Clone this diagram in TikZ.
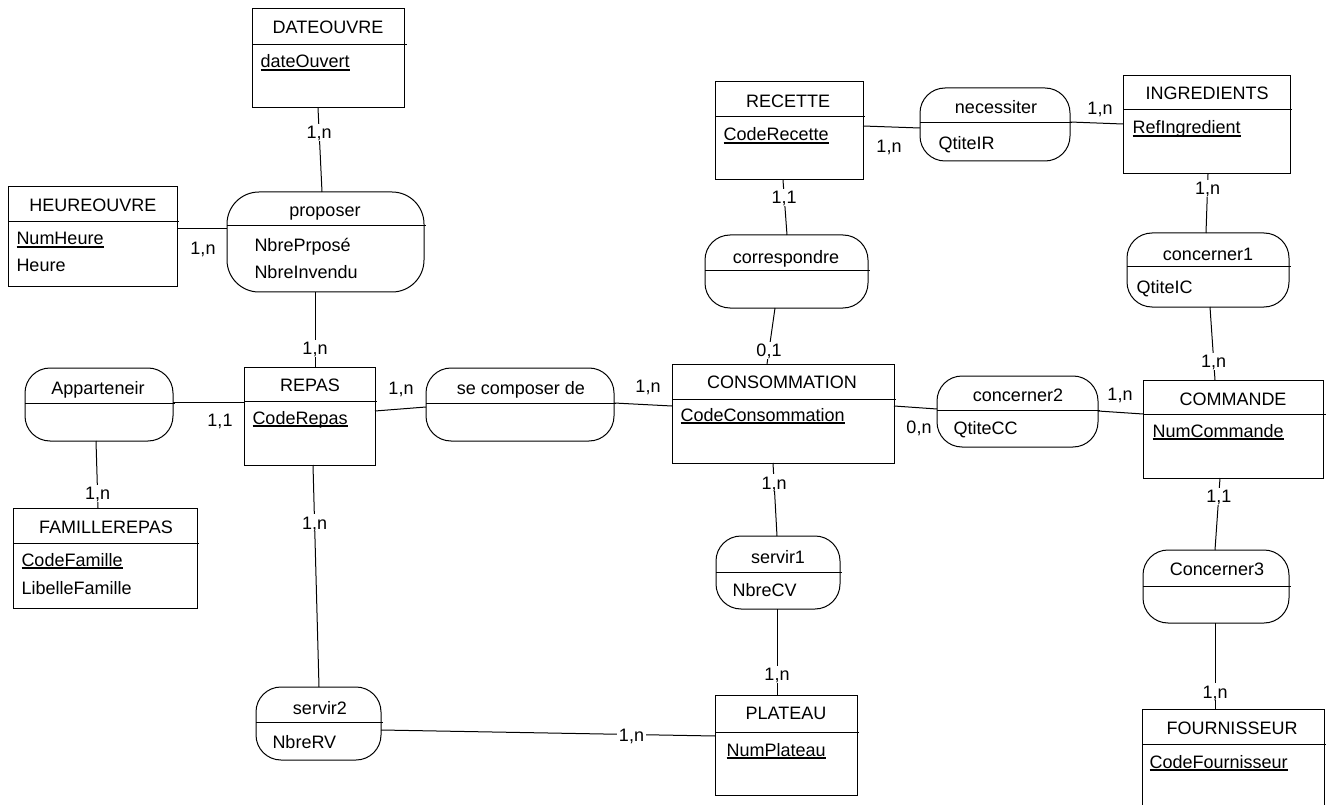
\documentclass[tikz,border=0pt]{standalone}
\usepackage{fontspec}
\setmainfont{Liberation Sans}
\usetikzlibrary{calc}

\newcommand\cle[1]{\setbox0\hbox{#1}\rlap{\rule[-2.6pt]{\wd0}{1.5pt}}\box0}

\tikzset{every picture/.style={line width=1pt}}
\tikzset{
  entite/.style={draw, rectangle, anchor=north west, inner sep=0pt, outer sep=0pt},
  assoc/.style={draw, rectangle, rounded corners=25pt, anchor=north west, inner sep=0pt, outer sep=0pt},
  titre/.style={anchor=base, inner sep=0pt, font=\fontsize{18pt}{21pt}\selectfont},
  attr/.style={anchor=base west, inner sep=0pt, font=\fontsize{18pt}{21pt}\selectfont},
  card/.style={fill=white, inner sep=2pt, text height=13pt, text depth=0pt, font=\fontsize{18pt}{21pt}\selectfont}
}

\begin{document}
\begin{tikzpicture}[x=1pt,y=1pt,yscale=-1,xscale=1]
\useasboundingbox (0,0) rectangle (1326,805);

%Entities
\node [entite, minimum width=152pt, minimum height=99pt] (dateouvre) at (252,9) {};
\node [entite, minimum width=169pt, minimum height=100pt] (heureouvre) at (8,187) {};
\node [entite, minimum width=131pt, minimum height=98pt] (repas) at (244,367) {};
\node [entite, minimum width=184pt, minimum height=100pt] (famillerepas) at (13,508) {};
\node [entite, minimum width=142pt, minimum height=100pt] (plateau) at (715,695) {};
\node [entite, minimum width=222pt, minimum height=99pt] (consommation) at (672,364) {};
\node [entite, minimum width=148pt, minimum height=98pt] (recette) at (715,82) {};
\node [entite, minimum width=167pt, minimum height=98pt] (ingredients) at (1123,76) {};
\node [entite, minimum width=180pt, minimum height=98pt] (commande) at (1143,380) {};
\node [entite, minimum width=182pt, minimum height=98pt] (fournisseur) at (1142,709) {};

%Associations
\node [assoc, rounded corners=32pt, minimum width=197pt, minimum height=100pt] (proposer) at (227,192) {};
\node [assoc, minimum width=148pt, minimum height=73pt] (appartenir) at (25,368) {};
\node [assoc, minimum width=188pt, minimum height=73pt] (secomposer) at (426,368) {};
\node [assoc, minimum width=163pt, minimum height=73pt] (correspondre) at (705,235) {};
\node [assoc, minimum width=150pt, minimum height=73pt] (necessiter) at (920,88) {};
\node [assoc, minimum width=162pt, minimum height=74pt] (concerner1) at (1127,233) {};
\node [assoc, minimum width=161pt, minimum height=71pt] (concerner2) at (937,376) {};
\node [assoc, minimum width=146pt, minimum height=73pt] (concerner3) at (1143,550) {};
\node [assoc, minimum width=124pt, minimum height=73pt] (servir1) at (716,536) {};
\node [assoc, minimum width=125pt, minimum height=73pt] (servir2) at (256,687) {};

%Separators
\draw (252,45) -- (407,45);
\draw (8,222) -- (179,222);
\draw (244,401) -- (377,401);
\draw (13,543) -- (199,543);
\draw (715,732) -- (859,732);
\draw (672,399) -- (896,399);
\draw (715,117) -- (865,117);
\draw (1123,110) -- (1292,110);
\draw (1143,414) -- (1326,414);
\draw (1142,744) -- (1326,744);
\draw (227,226) -- (426,226);
\draw (25,403) -- (175,403);
\draw (426,403) -- (616,403);
\draw (705,271) -- (870,271);
\draw (920,123) -- (1072,123);
\draw (1127,267) -- (1291,267);
\draw (937,410) -- (1100,410);
\draw (1143,586) -- (1291,586);
\draw (716,572) -- (842,572);
\draw (256,722) -- (383,722);

% Titles
\node [titre] (tdateouvre) at (328,34) {DATEOUVRE};
\node [titre] (theureouvre) at (93,212) {HEUREOUVRE};
\node [titre] (trepas) at (310,391) {REPAS};
\node [titre] (tfamillerepas) at (106,533) {FAMILLEREPAS};
\node [titre] (tplateau) at (786,719) {PLATEAU};
\node [titre] (tconsommation) at (782,388) {CONSOMMATION};
\node [titre] (trecette) at (788,108) {RECETTE};
\node [titre] (tingredients) at (1207,100) {INGREDIENTS};
\node [titre] (tcommande) at (1233,405) {COMMANDE};
\node [titre] (tfournisseur) at (1232,734) {FOURNISSEUR};
\node [titre] (tproposer) at (325,217) {proposer};
\node [titre] (tappartenir) at (98,394) {Apparteneir};
\node [titre] (tsecomposer) at (521,394) {se composer de};
\node [titre] (tcorrespondre) at (786,264) {correspondre};
\node [titre] (tnecessiter) at (996,114) {necessiter};
\node [titre] (tconcerner1) at (1208,261) {concerner1};
\node [titre] (tconcerner2) at (1018,401) {concerner2};
\node [titre] (tconcerner3) at (1217,575) {Concerner3};
\node [titre] (tservir1) at (778,563) {servir1};
\node [titre] (tservir2) at (320,714) {servir2};

% Attributes
\node [attr] (kdateouvert) at (260,68) {\cle{dateOuvert}};
\node [attr] (knumheure) at (16,245) {\cle{NumHeure}};
\node [attr] (aheure) at (16,272) {Heure};
\node [attr] (anbrepropose) at (254,252) {NbrePrposé};
\node [attr] (anbreinvendu) at (254,279) {NbreInvendu};
\node [attr] (kcoderepas) at (252,424) {\cle{CodeRepas}};
\node [attr] (kcodefamille) at (21,566) {\cle{CodeFamille}};
\node [attr] (alibellefamille) at (21,594) {LibelleFamille};
\node [attr] (knumplateau) at (726,756) {\cle{NumPlateau}};
\node [attr] (kcodeconsommation) at (680,421) {\cle{CodeConsommation}};
\node [attr] (kcoderecette) at (723,141) {\cle{CodeRecette}};
\node [attr] (krefingredient) at (1132,134) {\cle{RefIngredient}};
\node [attr] (knumcommande) at (1152,437) {\cle{NumCommande}};
\node [attr] (kcodefournisseur) at (1149,768) {\cle{CodeFournisseur}};
\node [attr] (aqtiteir) at (938,150) {QtiteIR};
\node [attr] (aqtiteic) at (1136,294) {QtiteIC};
\node [attr] (aqtitecc) at (953,434) {QtiteCC};
\node [attr] (anbrecv) at (732,596) {NbreCV};
\node [attr] (anbrerv) at (272,748) {NbreRV};

%Straight Lines
\draw ($(heureouvre.north east)+(0,42)$) -- ($(proposer.north west)+(0,37)$);
\draw ($(appartenir.north east)+(0,34)$) -- ($(repas.north west)+(0,35)$);
\draw ($(repas.north east)+(0,44)$) -- ($(secomposer.north west)+(0,39)$);
\draw ($(secomposer.north east)+(0,35)$) -- ($(consommation.north west)+(0,42)$);
\draw ($(consommation.north east)+(0,42)$) -- ($(concerner2.north west)+(0,33)$);
\draw ($(concerner2.north east)+(0,35)$) -- ($(commande.north west)+(0,34)$);
\draw ($(recette.north east)+(0,44)$) -- ($(necessiter.north west)+(0,40)$);
\draw ($(necessiter.north east)+(0,34)$) -- ($(ingredients.north west)+(0,48)$);
\draw ($(servir2.north east)+(0,43)$) -- node [card, pos=0.75] (c7) {1,n} ($(plateau.north west)+(0,41)$);

\draw ($(dateouvre.south west)+(66,0)$) -- node [card, pos=0.29] (c1) {1,n} ($(proposer.north west)+(95,0)$);
\draw ($(proposer.south west)+(88,0)$) -- node [card, pos=0.75] (c3) {1,n} ($(repas.north west)+(71,0)$);
\draw ($(appartenir.south west)+(71,0)$) -- node [card, pos=0.78] (c5) {1,n} ($(famillerepas.north west)+(85,0)$);
\draw ($(repas.south west)+(69,0)$) -- node [card, pos=0.26] (c6) {1,n} ($(servir2.north west)+(63,0)$);
\draw ($(recette.south west)+(68,0)$) -- node [card, pos=0.31] (c11) {1,1} ($(correspondre.north west)+(82,0)$);
\draw ($(correspondre.south west)+(70,0)$) -- node [card, pos=0.75] (c10) {0,1} ($(consommation.north west)+(95,0)$);
\draw ($(consommation.south west)+(101,0)$) -- node [card, pos=0.27] (c14) {1,n} ($(servir1.north west)+(61,0)$);
\draw ($(servir1.south west)+(61,0)$) -- node [card, pos=0.76] (c15) {1,n} ($(plateau.north west)+(62,0)$);
\draw ($(ingredients.south west)+(85,0)$) -- node [card, pos=0.24] (c16) {1,n} ($(concerner1.north west)+(79,0)$);
\draw ($(concerner1.south west)+(83,0)$) -- node [card, pos=0.74] (c17) {1,n} ($(commande.north west)+(72,0)$);
\draw ($(commande.south west)+(77,0)$) -- node [card, pos=0.25] (c18) {1,1} ($(concerner3.north west)+(72,0)$);
\draw ($(concerner3.south west)+(72,0)$) -- node [card, pos=0.8] (c19) {1,n} ($(fournisseur.north west)+(73,0)$);

% Text Node
\node [card] (c2) at (203,248) {1,n};
\node [card] (c4) at (220,420) {1,1};
\node [card] (c8) at (401,388) {1,n};
\node [card] (c9) at (648,386) {1,n};
\node [card] (c12) at (889,146) {1,n};
\node [card] (c13) at (1100,108) {1,n};
\node [card] (c20) at (919,427) {0,n};
\node [card] (c21) at (1120,394) {1,n};

\end{tikzpicture}
\end{document}
